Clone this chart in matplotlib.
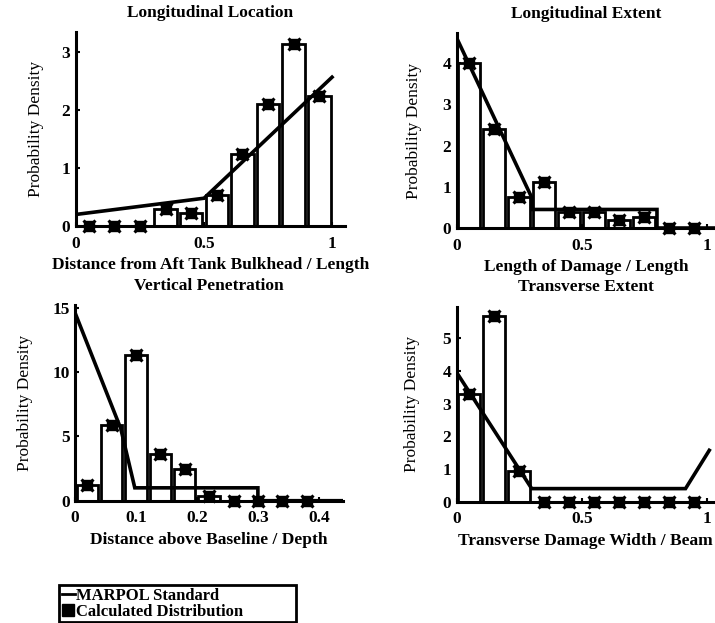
import matplotlib
matplotlib.use("Agg")
import matplotlib.pyplot as plt
from matplotlib.lines import Line2D

plt.rcParams['font.family'] = ['Liberation Serif', 'DejaVu Serif']
plt.rcParams['font.weight'] = 'bold'

# ---------------- data ----------------
# Longitudinal location
loc_centers = [0.05, 0.15, 0.25, 0.35, 0.45, 0.55, 0.65, 0.75, 0.85, 0.95]
loc_density = [0.0, 0.0, 0.0, 0.30, 0.22, 0.53, 1.25, 2.10, 3.15, 2.25]
loc_marpol_x = [0.0, 0.5, 1.0]
loc_marpol_y = [0.20, 0.48, 2.57]

# Longitudinal extent
ext_centers = [0.05, 0.15, 0.25, 0.35, 0.45, 0.55, 0.65, 0.75, 0.85, 0.95]
ext_density = [4.0, 2.4, 0.75, 1.12, 0.40, 0.40, 0.20, 0.27, 0.0, 0.0]
ext_marpol_x = [0.0, 0.0, 0.3, 0.3, 0.8, 0.8, 1.05]
ext_marpol_y = [0.0, 4.6, 0.73, 0.45, 0.45, 0.0, 0.0]

# Vertical penetration
vert_centers = [0.02, 0.06, 0.10, 0.14, 0.18, 0.22, 0.26, 0.30, 0.34, 0.38]
vert_density = [1.2, 5.9, 11.3, 3.65, 2.45, 0.35, 0.0, 0.0, 0.0, 0.0]
vert_marpol_x = [0.0, 0.075, 0.098, 0.30, 0.30, 0.44]
vert_marpol_y = [14.6, 5.6, 1.0, 1.0, 0.0, 0.0]

# Transverse extent
tr_centers = [0.05, 0.15, 0.25, 0.35, 0.45, 0.55, 0.65, 0.75, 0.85, 0.95]
tr_density = [3.3, 5.68, 0.95, 0.0, 0.0, 0.0, 0.0, 0.0, 0.0, 0.0]
tr_marpol_x = [0.0, 0.0, 0.3, 0.915, 1.01]
tr_marpol_y = [0.0, 3.95, 0.40, 0.40, 1.57]

FS = 12.5
fig = plt.figure(figsize=(7.15, 6.23), dpi=100)


def panel(rect, centers, dens, bw, mx, my, xlim, ylim, xticks, xticklabels,
          yticks, title, xlabel, ylabelpad):
    ax = fig.add_axes(rect)
    ax.bar(centers, dens, width=bw, facecolor='white', edgecolor='black',
           linewidth=2.0, zorder=2)
    ax.plot(mx, my, color='black', lw=2.6, zorder=3, solid_joinstyle='miter')
    ax.plot(centers, dens, linestyle='none', marker='s', ms=7,
            color='black', zorder=4, clip_on=False)
    ax.plot(centers, dens, linestyle='none', marker='x', ms=9, mew=2.2,
            color='black', zorder=4, clip_on=False)
    ax.set_xlim(*xlim)
    ax.set_ylim(*ylim)
    for s in ('top', 'right'):
        ax.spines[s].set_visible(False)
    for s in ('left', 'bottom'):
        ax.spines[s].set_linewidth(2.2)
    ax.set_xticks(xticks)
    ax.set_xticklabels(xticklabels)
    ax.set_yticks(yticks)
    ax.set_yticklabels([str(v) for v in yticks])
    ax.tick_params(direction='in', length=3, width=1.5, labelsize=FS, pad=4)
    ax.tick_params(axis='x', pad=7)
    ax.set_title(title, fontsize=FS, fontweight='bold', pad=11)
    ax.set_xlabel(xlabel, fontsize=FS, fontweight='bold', labelpad=4)
    ax.set_ylabel('Probability Density', fontsize=FS, fontweight='normal',
                  labelpad=ylabelpad)
    return ax


panel([0.1063, 0.6372, 0.376, 0.3114], loc_centers, loc_density, 0.088,
      loc_marpol_x, loc_marpol_y, (0, 1.05), (0, 3.35), [0, 0.5, 1],
      ['0', '0.5', '1'], [0, 1, 2, 3], 'Longitudinal Location',
      'Distance from Aft Tank Bulkhead / Length', 13)

panel([0.639, 0.634, 0.361, 0.313], ext_centers, ext_density, 0.088,
      ext_marpol_x, ext_marpol_y, (0, 1.032), (0, 4.73), [0, 0.5, 1],
      ['0', '0.5', '1'], [0, 1, 2, 3, 4], 'Longitudinal Extent',
      'Length of Damage / Length', 15)

panel([0.105, 0.1963, 0.375, 0.314], vert_centers, vert_density, 0.035,
      vert_marpol_x, vert_marpol_y, (0, 0.44), (0, 15.2),
      [0, 0.1, 0.2, 0.3, 0.4], ['0', '0.1', '0.2', '0.3', '0.4'],
      [0, 5, 10, 15], 'Vertical Penetration',
      'Distance above Baseline / Depth', 14)

panel([0.6387, 0.1947, 0.361, 0.313], tr_centers, tr_density, 0.088,
      tr_marpol_x, tr_marpol_y, (0, 1.032), (0, 5.96), [0, 0.5, 1],
      ['0', '0.5', '1'], [0, 1, 2, 3, 4, 5], 'Transverse Extent',
      'Transverse Damage Width / Beam', 16)

handles = [Line2D([], [], color='black', lw=2),
           Line2D([], [], color='black', linestyle='none', marker='s', ms=8)]
leg = fig.legend(handles, ['MARPOL Standard', 'Calculated Distribution'],
                 loc='lower left', mode='expand',
                 bbox_to_anchor=(59 / 715, 1 / 623, 237 / 715, 39 / 623),
                 bbox_transform=fig.transFigure, fontsize=FS - 0.5,
                 frameon=True, fancybox=False, edgecolor='black',
                 handlelength=0.8, handletextpad=0.1, borderpad=0.15,
                 labelspacing=0.0, borderaxespad=0, framealpha=1)
leg.get_frame().set_linewidth(2.0)
for t in leg.get_texts():
    t.set_fontweight('bold')

fig.savefig('out.png', dpi=100)
